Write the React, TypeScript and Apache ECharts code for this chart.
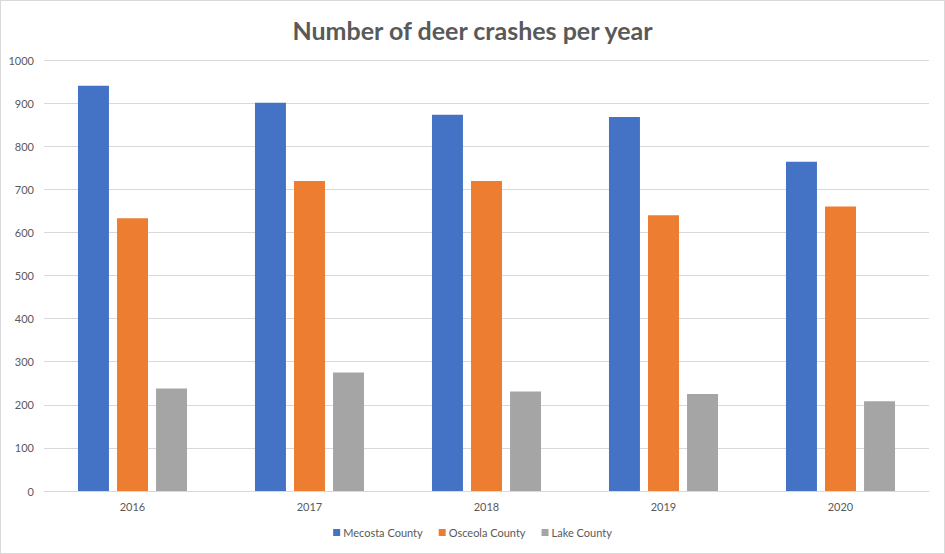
import React, { useEffect, useRef } from "react";
import * as echarts from "echarts";

const years = ["2016", "2017", "2018", "2019", "2020"];
const mecosta = [940, 901, 873, 868, 764];
const osceola = [633, 719, 719, 640, 660];
const lake = [238, 275, 231, 225, 208];
const seriesNames = ["Mecosta County", "Osceola County", "Lake County"];
const colors = ["#4472C4", "#ED7D31", "#A5A5A5"];

export default function App() {
  const ref = useRef<HTMLDivElement>(null);
  useEffect(() => {
    document.body.style.margin = "0";
    const chart = echarts.init(ref.current!, undefined, { renderer: "svg" });
    const font = "Lato, 'Open Sans', sans-serif";
    const data = [mecosta, osceola, lake];
    chart.setOption({
      animation: false,
      backgroundColor: "#ffffff",
      title: {
        text: "Number of deer crashes per year",
        left: "center",
        top: 11,
        textStyle: { fontFamily: font, fontSize: 25, fontWeight: "bold", color: "#595959" },
      },
      legend: {
        bottom: 10,
        left: "center",
        itemWidth: 7,
        itemHeight: 7,
        itemGap: 16,
        icon: "rect",
        textStyle: { fontFamily: font, fontSize: 11, color: "#595959", padding: [0, 0, 0, -2] },
        data: seriesNames,
      },
      grid: { left: 43, right: 15, top: 59, bottom: 62, containLabel: false },
      xAxis: {
        type: "category",
        data: years,
        axisLine: { lineStyle: { color: "#d9d9d9" } },
        axisTick: { show: false },
        axisLabel: { fontFamily: font, fontSize: 11, color: "#595959", margin: 10 },
      },
      yAxis: {
        type: "value",
        min: 0,
        max: 1000,
        interval: 100,
        axisLine: { show: false },
        axisTick: { show: false },
        splitLine: { lineStyle: { color: "#d9d9d9" } },
        axisLabel: {
          fontFamily: font,
          fontSize: 11,
          color: "#595959",
          margin: 10,
          formatter: (v: number) => String(v),
        },
      },
      series: seriesNames.map((name, i) => ({
        name,
        type: "bar",
        data: data[i],
        barWidth: "17.5%",
        barGap: "26%",
        itemStyle: { color: colors[i] },
      })),
    });
    return () => chart.dispose();
  }, []);
  return (
    <div
      ref={ref}
      style={{
        position: "absolute",
        left: 0,
        top: 0,
        width: 945,
        height: 554,
        border: "1px solid #d9d9d9",
        boxSizing: "border-box",
      }}
    />
  );
}
